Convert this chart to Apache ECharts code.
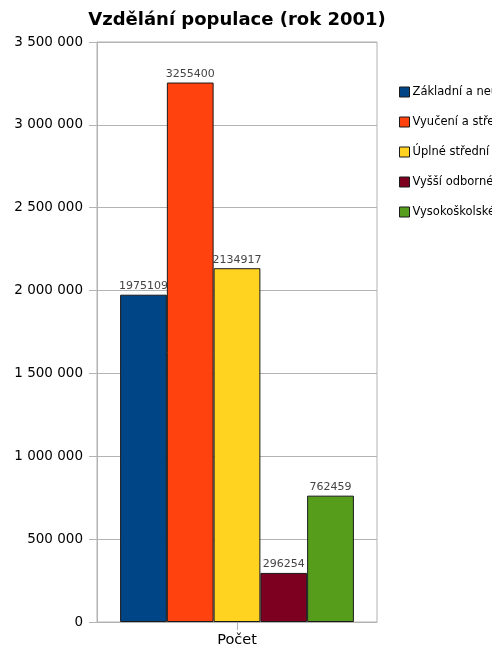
<!DOCTYPE html>
<html><head><meta charset="utf-8">
<script src="https://cdn.jsdelivr.net/npm/echarts@6/dist/echarts.min.js"></script>
<style>html,body{margin:0;padding:0;background:#fff}#c{width:492px;height:655px}</style>
</head><body><div id="c"></div>
<script>
const categories = ['Počet'];
const seriesNames = ['Základní a neukončené', 'Vyučení a střední bez maturity', 'Úplné střední s maturitou', 'Vyšší odborné', 'Vysokoškolské'];
const seriesValues = [1975109, 3255400, 2134917, 296254, 762459];
const seriesColors = ['#004586', '#ff420e', '#ffd320', '#7e0021', '#579d1c'];
const yMin = 0, yMax = 3500000, yInterval = 500000;

const fmt = v => String(v).replace(/\B(?=(\d{3})+(?!\d))/g, ' ');
const chart = echarts.init(document.getElementById('c'));
chart.setOption({
  animation: false,
  textStyle: { fontFamily: 'DejaVu Sans, sans-serif' },
  title: { text: 'Vzdělání populace (rok 2001)', left: 232, textAlign: 'center', top: 6,
    textStyle: { fontSize: 18, fontWeight: 'bold', color: '#000', fontFamily: 'DejaVu Sans' } },
  legend: {
    orient: 'vertical', left: 394, top: 81, itemGap: 18, itemWidth: 10, itemHeight: 10,
    icon: 'rect', itemStyle: { borderColor: '#1a1a1a', borderWidth: 1 },
    textStyle: { fontSize: 11.5, color: '#000', padding: [0,0,0,-2] },
    data: seriesNames
  },
  grid: { left: 97, right: 115, top: 42, bottom: 33, show: true, borderColor: '#b3b3b3', borderWidth: 1 },
  xAxis: { type: 'category', data: categories,
    axisLine: { show: true, lineStyle: { color: '#b3b3b3' } },
    axisTick: { show: true, alignWithLabel: true, length: 8, lineStyle: { color: '#b3b3b3' } },
    axisLabel: { fontSize: 14.5, color: '#000', margin: 11 } },
  yAxis: { type: 'value', min: yMin, max: yMax, interval: yInterval,
    axisLine: { show: true, lineStyle: { color: '#b3b3b3' } },
    axisTick: { show: true, length: 8, lineStyle: { color: '#b3b3b3' } },
    splitLine: { lineStyle: { color: '#b3b3b3' } },
    axisLabel: { fontSize: 13.5, color: '#000', margin: 14, formatter: fmt } },
  series: seriesNames.map((n, i) => ({
    name: n, type: 'bar', data: [seriesValues[i]],
    barGap: '0%', barCategoryGap: '16.5%',
    itemStyle: { color: seriesColors[i], borderColor: '#1a1a1a', borderWidth: 1 },
    label: { show: true, position: 'top', distance: 3, fontSize: 11, color: '#444' }
  }))
});
</script></body></html>
